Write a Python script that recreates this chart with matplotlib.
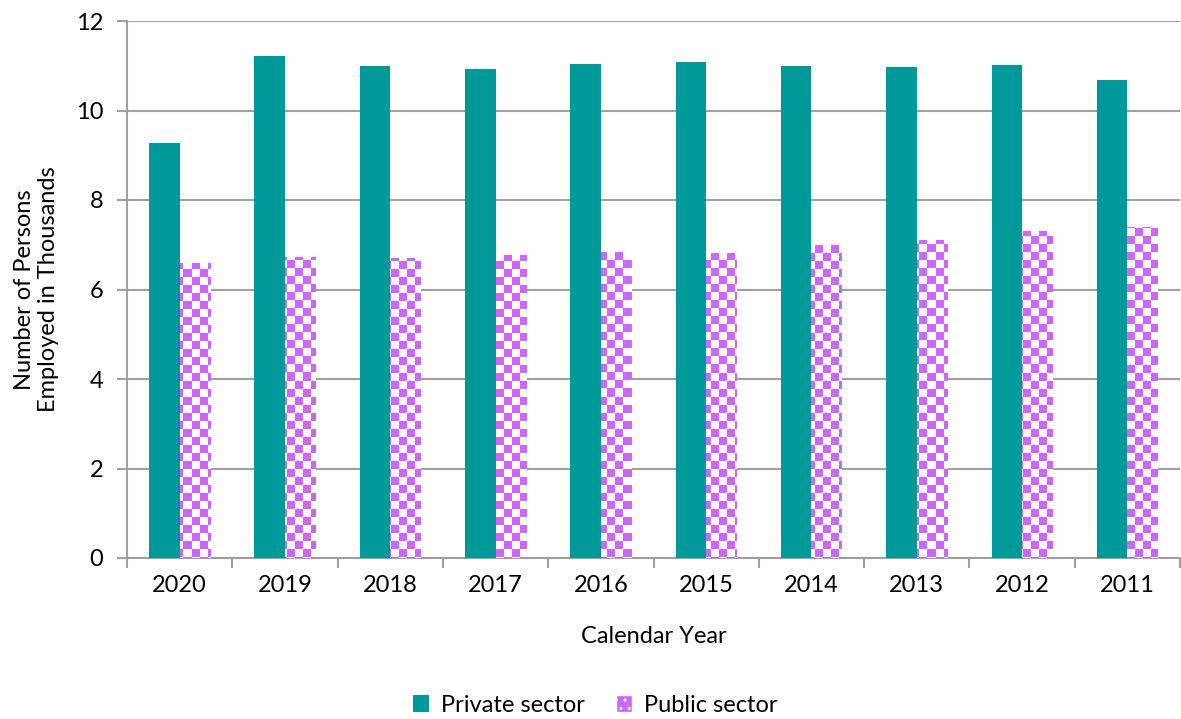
import numpy as np
import matplotlib
matplotlib.use("Agg")
import matplotlib.pyplot as plt
from matplotlib.patches import Patch

years = ["2020", "2019", "2018", "2017", "2016", "2015", "2014", "2013", "2012", "2011"]
private = [9.27, 11.22, 10.99, 10.93, 11.04, 11.08, 10.99, 10.97, 11.02, 10.68]
public = [6.59, 6.73, 6.70, 6.77, 6.84, 6.82, 6.99, 7.11, 7.31, 7.40]

teal = "#009999"
purple = "#CC66FF"
grid_c = "#A0A0A0"
fs = 17

plt.rcParams['font.family'] = ['Lato', 'DejaVu Sans']

fig = plt.figure(figsize=(11.81, 7.19), dpi=100)
ax = fig.add_axes([127/1181, (719-558)/719, (1180-127)/1181, (558-21)/719])

x = np.arange(len(years))
w = 0.29
ax.bar(x - w/2, private, width=w, color=teal, zorder=3)
pub_bars = ax.bar(x + w/2, public, width=w, facecolor='none', edgecolor='none', zorder=3)

# checker pattern fill for public bars
H, W = 537, 1053
yy, xx = np.mgrid[0:H, 0:W]
cell = 8
pat = ((xx // cell + yy // cell) % 2 == 0)
img = np.ones((H, W, 3))
col = np.array(matplotlib.colors.to_rgb(purple))
img[pat] = col
for b in pub_bars:
    im = ax.imshow(img, extent=(-0.5, len(years) - 0.5, 0, 12), aspect='auto',
                   interpolation='nearest', zorder=3)
    im.set_clip_path(b)
ax.set_xlim(-0.5, len(years) - 0.5)
ax.set_ylim(0, 12)

ax.set_yticks(np.arange(0, 13, 2))
ax.yaxis.grid(True, color=grid_c, linewidth=1.5, zorder=0)
ax.set_axisbelow(True)
ax.set_xticks(x)
ax.set_xticklabels(years)
ax.set_xticks(np.arange(-0.5, len(years), 1), minor=True)
ax.tick_params(axis='x', which='major', length=0, labelsize=fs, pad=12)
ax.tick_params(axis='x', which='minor', length=7, color=grid_c, width=1.5)
ax.tick_params(axis='y', length=7, color=grid_c, width=1.5, labelsize=fs, pad=10)

for s in ['top', 'right']:
    ax.spines[s].set_visible(False)
for s in ['left', 'bottom']:
    ax.spines[s].set_color(grid_c)
    ax.spines[s].set_linewidth(1.5)

ax.set_xlabel("Calendar Year", fontsize=fs, labelpad=22)
ax.set_ylabel("Number of Persons\nEmployed in Thousands", fontsize=fs, labelpad=12)

handles = [Patch(facecolor=teal, label="Private sector"),
           Patch(facecolor=purple, hatch='..', edgecolor='white', label="Public sector")]
fig.legend(handles=handles, loc='center', bbox_to_anchor=(595/1181, 1 - 705/719),
           ncol=2, frameon=False, fontsize=fs, handlelength=0.7, handleheight=0.7,
           columnspacing=1.3, handletextpad=0.5)

fig.savefig("out.png", dpi=100)
